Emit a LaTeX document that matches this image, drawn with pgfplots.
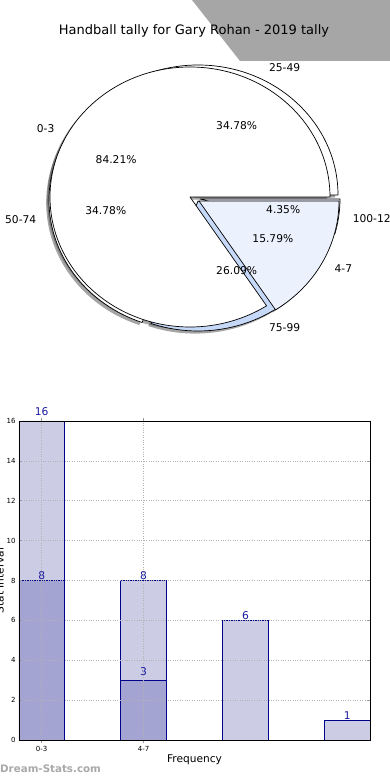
\documentclass[border=0pt]{standalone}
\usepackage{pgfplots}
\pgfplotsset{compat=1.18}
\usepackage{fontspec}
\setmainfont{DejaVu Sans}
\usetikzlibrary{calc}
\definecolor{lightbar}{HTML}{CCCCE5}
\definecolor{darkbar}{HTML}{A3A4D1}
\definecolor{baredge}{HTML}{00008B}
\definecolor{lbl}{HTML}{1A1AA0}
\definecolor{wedgeA}{HTML}{EBF1FD}
\definecolor{wedgeB}{HTML}{C6D9F8}
\definecolor{banner}{HTML}{A6A6A6}
\definecolor{wm}{HTML}{A8A8A8}

% wedge: start, end, dx, dy, fill
\newcommand{\pieW}[5]{\filldraw[fill=#5,draw=black,line width=0.7pt,line join=round]
  ([shift={(#3pt,#4pt)}]axis cs:0,0) -- ++(#1:140pt and 130pt)
  arc[start angle=#1,end angle=#2,x radius=140pt,y radius=130pt] -- cycle;}
\newcommand{\pieS}[4]{\fill[black!70,opacity=0.5]
  ([shift={(#3pt-2.8pt,#4pt-2.6pt)}]axis cs:0,0) -- ++(#1:140pt and 130pt)
  arc[start angle=#1,end angle=#2,x radius=140pt,y radius=130pt] -- cycle;}

\begin{document}
\begin{tikzpicture}
\useasboundingbox (0pt,0pt) rectangle (390pt,780pt);
\fill[banner] (192pt,780pt) -- (390pt,780pt) -- (390pt,719pt) -- (240pt,719pt) -- cycle;
\node[anchor=base,inner sep=0,font=\fontsize{13}{15}\selectfont] at (194pt,745.5pt) {Handball tally for Gary Rohan - 2019 tally};

% pie data: A = 0-3, 4-7 ; B = 25-49, 50-74, 75-99, 100-124
\pgfmathsetmacro{\totA}{16+3}
\pgfmathsetmacro{\aA}{360*16/\totA}
\pgfmathsetmacro{\totB}{8+8+6+1}
\pgfmathsetmacro{\bA}{360*8/\totB}
\pgfmathsetmacro{\bB}{360*(8+8)/\totB}
\pgfmathsetmacro{\bC}{360*(8+8+6)/\totB}
\pgfmathsetmacro{\mAa}{\aA/2}
\pgfmathsetmacro{\mAb}{(\aA+360)/2}
\pgfmathsetmacro{\mBa}{\bA/2}
\pgfmathsetmacro{\mBb}{(\bA+\bB)/2}
\pgfmathsetmacro{\mBc}{(\bB+\bC)/2}
\pgfmathsetmacro{\mBd}{(\bC+360)/2}

\begin{axis}[at={(190pt,583pt)}, anchor=origin, scale only axis,
  width=420pt, height=390pt, xmin=-1.5, xmax=1.5, ymin=-1.5, ymax=1.5,
  hide axis, clip=false]
\addplot[draw=none] coordinates {(0,0)};
\pgfplotsextra{
  % shadows
  \pieS{0}{\bA}{8}{2}
  \pieS{\bA}{\bB}{-1}{-3}
  \pieS{\bB}{\bC}{8}{-4}
  \pieS{\bC}{360}{10}{-2}
  \pieS{0}{\aA}{0}{0}
  \pieS{\aA}{360}{9}{-4}
  % pie B
  \pieW{0}{\bA}{8}{2}{white}
  \pieW{\bA}{\bB}{-1}{-3}{white}
  \pieW{\bB}{\bC}{8}{-4}{wedgeB}
  \pieW{\bC}{360}{10}{-2}{wedgeA}
  % pie A
  \pieW{0}{\aA}{0}{0}{white}
  \pieW{\aA}{360}{9}{-4}{wedgeA}
  % labels
  \begin{scope}[every node/.style={inner sep=0,font=\fontsize{10.7}{12}\selectfont}]
  \node[anchor=west] at ($(axis cs:0,0)+(8pt,2pt)+(\mBa:154pt and 143pt)$) {25-49};
  \node[anchor=east] at ($(axis cs:0,0)+(-1pt,-3pt)+(\mBb:154pt and 143pt)$) {50-74};
  \node[anchor=west] at ($(axis cs:0,0)+(8pt,-4pt)+(\mBc:154pt and 143pt)$) {75-99};
  \node[anchor=west] at ($(axis cs:0,0)+(10pt,-2pt)+(\mBd:154pt and 143pt)$) {100-124};
  \node[anchor=east] at ($(axis cs:0,0)+(\mAa:154pt and 143pt)$) {0-3};
  \node[anchor=west] at ($(axis cs:0,0)+(9pt,-4pt)+(\mAb:154pt and 143pt)$) {4-7};
  \node at ($(axis cs:0,0)+(8pt,2pt)+(\mBa:84pt and 78pt)$) {34.78\%};
  \node at ($(axis cs:0,0)+(-1pt,-3pt)+(\mBb:84pt and 78pt)$) {34.78\%};
  \node at ($(axis cs:0,0)+(8pt,-4pt)+(\mBc:84pt and 78pt)$) {26.09\%};
  \node at ($(axis cs:0,0)+(10pt,-2pt)+(\mBd:84pt and 78pt)$) {4.35\%};
  \node at ($(axis cs:0,0)+(\mAa:84pt and 78pt)$) {84.21\%};
  \node at ($(axis cs:0,0)+(9pt,-4pt)+(\mAb:84pt and 78pt)$) {15.79\%};
  \end{scope}
}
\end{axis}

\begin{axis}[at={(19pt,40pt)}, anchor=south west, scale only axis,
  width=351pt, height=319pt,
  xmin=-0.223, xmax=3.223, ymin=0, ymax=16, clip=false,
  ytick={0,2,...,16}, xtick={0,1}, xticklabels={0-3,4-7},
  ymajorgrids, xmajorgrids,
  grid style={dotted, black!30, line width=0.7pt},
  tick style={black!40, line width=0.6pt}, tick align=inside, major tick length=3pt,
  tick pos=both,
  tick label style={font=\fontsize{7}{8}\selectfont},
  /pgf/number format/assume math mode=true,
  xlabel={Frequency},
  xlabel style={font=\fontsize{10.6}{12}\selectfont, at={(axis description cs:0.5,0)}, anchor=base, yshift=-22.5pt},
  axis line style={black, line width=0.7pt},
  axis on top,
  ybar, bar width=0.446, bar shift=0pt,
]
\addplot[fill=lightbar, draw=baredge, line width=0.8pt] coordinates {(0,16) (1,8) (2,6) (3,1)};
\addplot[fill=darkbar, draw=baredge, line width=0.8pt] coordinates {(0,8) (1,3)};
\begin{scope}[every node/.style={anchor=base, inner sep=0, text=lbl, font=\fontsize{10.7}{12}\selectfont}]
\node[yshift=5pt] at (axis cs:0,16) {16};
\node[yshift=0.5pt] at (axis cs:0,8) {8};
\node[yshift=0.5pt] at (axis cs:1,8) {8};
\node[yshift=5pt] at (axis cs:1,3) {3};
\node[yshift=0.5pt] at (axis cs:2,6) {6};
\node[yshift=0.5pt] at (axis cs:3,1) {1};
\end{scope}
\end{axis}

\node[rotate=90, anchor=base, inner sep=0, font=\fontsize{10.6}{12}\selectfont] at (3.5pt,199.5pt) {Stat Interval};
\node[anchor=base west, inner sep=0, text=wm, font=\bfseries\fontsize{10.3}{12}\selectfont] at (0pt,7pt) {Dream-Stats.com};
\end{tikzpicture}
\end{document}
